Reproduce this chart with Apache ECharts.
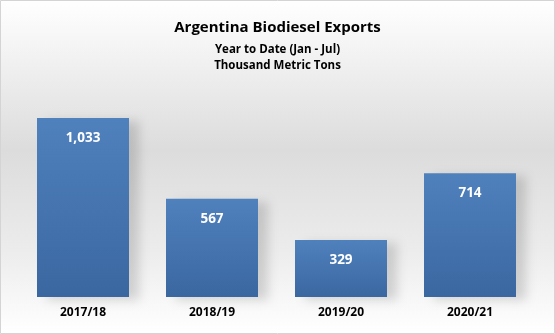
<!DOCTYPE html>
<html><head><meta charset="utf-8">
<script src="https://cdn.jsdelivr.net/npm/echarts@6/dist/echarts.min.js"></script>
<style>html,body{margin:0;padding:0;background:#fff}#c{width:555px;height:334px}</style>
</head><body><div id="c"></div>
<script>
const categories = ['2017/18', '2018/19', '2019/20', '2020/21'];
const exportsValues = [1033, 567, 329, 714];
const titleText = 'Argentina Biodiesel Exports';
const subtitleLines = ['Year to Date (Jan - Jul)', 'Thousand Metric Tons'];

const chart = echarts.init(document.getElementById('c'), null, {renderer: 'canvas'});
const font = '"Open Sans", "Liberation Sans", sans-serif';
chart.setOption({
  animation: false,
  backgroundColor: new echarts.graphic.LinearGradient(0, 0, 0, 1, [
    {offset: 0, color: '#ffffff'},
    {offset: 0.45, color: '#dcdcdc'},
    {offset: 0.75, color: '#ececec'},
    {offset: 1, color: '#ffffff'}
  ]),
  graphic: [{
    type: 'rect', shape: {x: 0.5, y: 0.5, width: 554, height: 333},
    style: {fill: 'none', stroke: '#d4d4d4', lineWidth: 1}, silent: true
  }],
  title: [{
    text: titleText, left: 'center', top: 15,
    textStyle: {fontFamily: font, fontWeight: 'bold', fontSize: 15, color: '#000'}
  }, {
    text: subtitleLines[0], left: 'center', top: 39,
    textStyle: {fontFamily: font, fontWeight: 'bold', fontSize: 11.5, color: '#000'}
  }, {
    text: subtitleLines[1], left: 'center', top: 55,
    textStyle: {fontFamily: font, fontWeight: 'bold', fontSize: 11.5, color: '#000'}
  }],
  grid: {left: 18.5, right: 20.5, top: 89, bottom: 37},
  xAxis: {
    type: 'category', data: categories,
    axisLine: {show: false}, axisTick: {show: false},
    axisLabel: {margin: 10, fontFamily: font, fontWeight: 'bold', fontSize: 12, color: '#000'}
  },
  yAxis: {
    type: 'value', min: 0, max: 1200, show: false,
    splitLine: {show: false}
  },
  series: [{
    type: 'bar', data: exportsValues, barWidth: 92,
    itemStyle: {
      color: new echarts.graphic.LinearGradient(0, 0, 0, 1, [
        {offset: 0, color: '#4f81bd'},
        {offset: 1, color: '#3b67a0'}
      ]),
      shadowColor: 'rgba(0,0,0,0.15)', shadowBlur: 10, shadowOffsetX: 10, shadowOffsetY: 3
    },
    label: {
      show: true, position: 'insideTop', distance: 13,
      formatter: p => p.value.toLocaleString('en-US'),
      fontFamily: font, fontWeight: 'bold', fontSize: 13.5, color: '#fff'
    }
  }]
});
</script></body></html>
